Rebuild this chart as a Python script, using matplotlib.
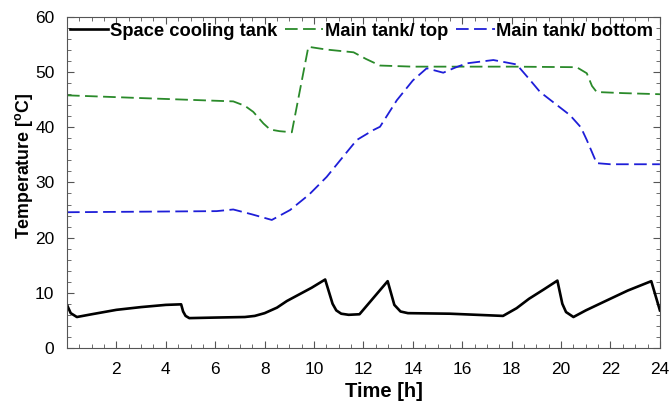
import matplotlib
matplotlib.use('Agg')
import matplotlib.pyplot as plt
from matplotlib.ticker import MultipleLocator

plt.rcParams['font.family'] = ['Liberation Sans', 'DejaVu Sans']
plt.rcParams['mathtext.fontset'] = 'custom'
plt.rcParams['mathtext.rm'] = 'Liberation Sans'
plt.rcParams['mathtext.bf'] = 'Liberation Sans:bold'

# Space cooling tank temperature (h, degC)
cool_t = [0.0, 0.15, 0.4, 1.0, 2.0, 3.0, 4.0, 4.62, 4.7, 4.8, 4.95, 6.0, 7.2, 7.6, 8.0,
          8.5, 8.9, 9.4, 9.9, 10.45, 10.75, 10.9, 11.1, 11.4, 11.84, 12.98, 13.25, 13.5,
          13.8, 15.5, 17.65, 18.2, 18.7, 19.3, 19.85, 20.05, 20.2, 20.5, 21.0, 21.8, 22.7,
          23.65, 24.0]
cool_T = [7.8, 6.3, 5.6, 6.1, 6.9, 7.4, 7.8, 7.9, 6.6, 5.8, 5.4, 5.5, 5.6, 5.8, 6.3,
          7.3, 8.5, 9.7, 10.9, 12.4, 8.0, 6.8, 6.2, 6.0, 6.1, 12.1, 7.8, 6.6,
          6.3, 6.2, 5.8, 7.2, 8.9, 10.6, 12.2, 8.0, 6.5, 5.6, 6.8, 8.5, 10.4,
          12.1, 6.8]

# Main tank, top layer
top_t = [0.0, 3.0, 6.73, 7.2, 7.54, 7.95, 8.22, 8.6, 9.1, 9.77, 10.5, 11.6, 12.1, 12.67,
         14.0, 18.0, 20.63, 21.04, 21.25, 21.44, 22.5, 24.0]
top_T = [45.8, 45.3, 44.7, 43.9, 42.8, 40.7, 39.6, 39.3, 39.1, 54.6, 54.1, 53.6, 52.4, 51.2,
         51.0, 51.0, 50.9, 49.8, 47.5, 46.4, 46.2, 46.0]

# Main tank, bottom layer
bot_t = [0.0, 6.06, 6.73, 7.5, 8.29, 9.03, 9.8, 10.51, 11.2, 11.73, 12.4, 12.67, 13.35,
         14.0, 14.56, 15.23, 15.7, 16.18, 17.26, 18.2, 18.7, 19.15, 20.36, 20.8, 21.04,
         21.44, 22.0, 24.0]
bot_T = [24.6, 24.8, 25.1, 24.2, 23.2, 25.0, 27.8, 31.0, 34.8, 37.7, 39.5, 40.1, 44.9,
         48.5, 50.7, 49.9, 50.8, 51.6, 52.2, 51.4, 48.8, 46.4, 42.2, 40.0, 37.7,
         33.5, 33.3, 33.3]

fig = plt.figure(figsize=(6.72, 4.05), dpi=100)
ax = fig.add_axes([0.0997, 0.141, 0.8823, 0.817])

ax.plot(cool_t, cool_T, color='black', lw=1.9, label='Space cooling tank')
ax.plot(top_t, top_T, color='#2a8a2a', lw=1.3, ls=(0, (7, 3)), label='Main tank/ top')
ax.plot(bot_t, bot_T, color='#1e1ed8', lw=1.3, ls=(0, (7, 3)), label='Main tank/ bottom')

ax.set_xlim(0, 24)
ax.set_ylim(0, 60)
ax.set_xticks(range(2, 25, 2))
ax.set_yticks(range(0, 61, 10))
ax.xaxis.set_minor_locator(MultipleLocator(0.5))
ax.yaxis.set_minor_locator(MultipleLocator(2))
ax.tick_params(which='both', direction='in', top=True, right=True, colors='#555555',
               labelcolor='black', labelsize=12.5)
ax.tick_params(which='major', length=5)
ax.tick_params(which='minor', length=3)
ax.tick_params(axis='x', which='major', pad=10)
ax.tick_params(axis='y', which='major', pad=9)
for s in ax.spines.values():
    s.set_color('#555555')

ax.set_xlabel('Time [h]', fontsize=14.5, fontweight='bold', labelpad=0)
ax.xaxis.set_label_coords(0.535, -0.102)
ax.set_ylabel(r'Temperature [$^{\mathbf{o}}$C]', fontsize=12.8, fontweight='bold', labelpad=1)
ax.yaxis.set_label_coords(-0.054, 0.55)

ax.legend(loc='upper left', bbox_to_anchor=(-0.005, 1.0), borderaxespad=0.0, borderpad=0.3,
          ncol=3, frameon=False, handlelength=2.1, handletextpad=0.1, columnspacing=0.42,
          prop={'weight': 'bold', 'size': 13.2})

fig.savefig('out.png', dpi=100)
